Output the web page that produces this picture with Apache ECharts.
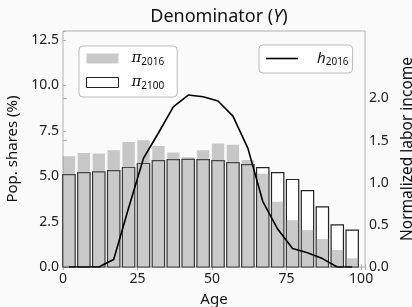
<!DOCTYPE html>
<html>
<head>
<meta charset="utf-8">
<script src="https://cdn.jsdelivr.net/npm/echarts@6/dist/echarts.min.js"></script>
<style>
  html, body { margin: 0; background: #fafafa; }
  #main { width: 412px; height: 307px; }
</style>
</head>
<body>
<div id="main"></div>
<script>
// 年龄组中点
const ageMid = [2, 7, 12, 17, 22, 27, 32, 37, 42, 47, 52, 57, 62, 67, 72, 77, 82, 87, 92, 97]
// 人口比例 (%)
const pop2016 = [6.10, 6.28, 6.25, 6.43, 6.88, 6.98, 6.67, 6.31, 6.04, 6.43, 6.80, 6.74, 5.90, 5.13, 3.59, 2.58, 2.03, 1.54, 0.93, 0.48]
const pop2100 = [5.09, 5.20, 5.24, 5.31, 5.48, 5.70, 5.86, 5.92, 5.93, 5.92, 5.86, 5.75, 5.64, 5.47, 5.20, 4.82, 4.21, 3.31, 2.32, 2.03]
// 劳动收入
const h2016 = [0, 0, 0, 0.09, 0.70, 1.29, 1.59, 1.90, 2.04, 2.02, 1.97, 1.79, 1.41, 0.78, 0.45, 0.22, 0.17, 0.10, 0, 0]
// 右轴刻度
const rightTicks = [0, 0.5, 1, 1.5, 2]

const barHalf = 2.07
const font = 'Noto Sans'
const axisGray = '#b0b0b0'
const grayFill = 'rgba(128,128,128,0.42)'

let chart = echarts.init(document.getElementById('main'))

// 画柱子
function renderBar(style) {
  return function (params, api) {
    let topLeft = api.coord([api.value(0) - barHalf, api.value(1)])
    let bottomRight = api.coord([api.value(0) + barHalf, 0])
    return {
      type: 'rect',
      shape: {
        x: topLeft[0],
        y: topLeft[1],
        width: bottomRight[0] - topLeft[0],
        height: bottomRight[1] - topLeft[1]
      },
      style: style
    }
  }
}

function fmt(step) {
  return function (v) {
    let k = v / step
    return Math.abs(k - Math.round(k)) < 1e-6 ? v.toFixed(1) : ''
  }
}

let legendRich = {
  p: { fontSize: 15, fontStyle: 'italic', fontFamily: 'DejaVu Serif', color: '#111', padding: [0, 0, 0, 8] },
  h: { fontSize: 15, fontStyle: 'italic', fontFamily: font, color: '#111', padding: [0, 0, 0, 14] },
  s: { fontSize: 10, fontFamily: font, color: '#111', padding: [7, 0, 0, 0] }
}

let option = {
  backgroundColor: '#fafafa',
  animation: false,
  textStyle: { fontFamily: font },
  title: {
    text: '{a|Denominator (}{b|Y}{a|)}',
    left: 214,
    textAlign: 'center',
    top: 3,
    textStyle: {
      fontWeight: 'normal',
      rich: {
        a: { fontSize: 18, color: '#111', fontFamily: font, fontWeight: 'normal' },
        b: { fontSize: 18, color: '#111', fontFamily: font, fontWeight: 'normal', fontStyle: 'italic' }
      }
    }
  },
  grid: {
    show: true,
    left: 63,
    right: 47,
    top: 31,
    bottom: 40,
    outerBoundsMode: 'none',
    containLabel: false,
    borderColor: axisGray,
    borderWidth: 1
  },
  legend: [{
    data: [
      { name: 'pi2016', icon: 'rect', itemStyle: { color: grayFill, borderWidth: 0 } },
      { name: 'pi2100', icon: 'rect', itemStyle: { color: '#fff', borderColor: '#222', borderWidth: 1 } }
    ],
    orient: 'vertical',
    left: 79,
    top: 46,
    itemWidth: 32,
    itemHeight: 10,
    itemGap: 8,
    padding: [5, 13, 6, 7],
    borderColor: '#bbb',
    borderWidth: 1,
    borderRadius: 4,
    backgroundColor: 'rgba(255,255,255,0.8)',
    selectedMode: false,
    formatter: function (name) {
      return name === 'pi2016' ? '{p|π}{s|2016}' : '{p|π}{s|2100}'
    },
    textStyle: { rich: legendRich }
  }, {
    data: [{ name: 'h2016', icon: 'rect', itemStyle: { color: '#000' } }],
    left: 259,
    top: 45,
    itemWidth: 32,
    itemHeight: 1.6,
    padding: [6, 4, 6, 7],
    borderColor: '#bbb',
    borderWidth: 1,
    borderRadius: 4,
    backgroundColor: 'rgba(255,255,255,0.8)',
    selectedMode: false,
    formatter: function () {
      return '{h|h}{s|2016}'
    },
    textStyle: { rich: legendRich }
  }],
  xAxis: [{
    type: 'value',
    min: 0,
    max: 101.3,
    interval: 25,
    name: 'Age',
    nameLocation: 'middle',
    nameGap: 25,
    nameTextStyle: { fontSize: 15, color: '#111' },
    axisLine: { show: false },
    axisTick: { inside: true, length: 3, lineStyle: { color: axisGray } },
    axisLabel: {
      fontSize: 14,
      color: '#222',
      margin: 5,
      formatter: function (v) { return v % 25 === 0 ? String(v) : '' }
    },
    splitLine: { show: false }
  }, {
    type: 'value',
    position: 'top',
    min: 0,
    max: 101.3,
    interval: 25,
    axisLine: { show: false },
    axisTick: { inside: true, length: 3, lineStyle: { color: axisGray } },
    axisLabel: { show: false },
    splitLine: { show: false }
  }],
  yAxis: [{
    type: 'value',
    min: 0,
    max: 13,
    interval: 2.5,
    name: 'Pop. shares (%)',
    nameLocation: 'middle',
    nameGap: 41,
    nameTextStyle: { fontSize: 15, color: '#111' },
    axisLine: { show: false },
    axisTick: { inside: true, length: 3, lineStyle: { color: axisGray } },
    axisLabel: { fontSize: 14, color: '#222', margin: 4, formatter: fmt(2.5) },
    splitLine: { show: false }
  }, {
    type: 'value',
    position: 'right',
    min: 0,
    max: 2.8,
    interval: 0.5,
    name: 'Normalized labor income',
    nameLocation: 'middle',
    nameGap: 30,
    nameRotate: 90,
    nameTextStyle: { fontSize: 15.5, color: '#111' },
    axisLine: { show: false },
    axisTick: { inside: false, length: 4, customValues: rightTicks, lineStyle: { color: axisGray } },
    axisLabel: {
      fontSize: 14,
      color: '#222',
      margin: 4,
      customValues: rightTicks,
      formatter: function (v) { return v.toFixed(1) }
    },
    splitLine: { show: false }
  }],
  series: [{
    name: 'pi2100',
    type: 'custom',
    renderItem: renderBar({ fill: '#fff', stroke: '#222', lineWidth: 1.2 }),
    itemStyle: { color: '#fff', borderColor: '#222', borderWidth: 1 },
    encode: { x: 0, y: 1 },
    data: ageMid.map((a, i) => [a, pop2100[i]]),
    z: 1
  }, {
    name: 'pi2016',
    type: 'custom',
    renderItem: renderBar({ fill: grayFill }),
    itemStyle: { color: grayFill },
    encode: { x: 0, y: 1 },
    data: ageMid.map((a, i) => [a, pop2016[i]]),
    z: 2
  }, {
    name: 'h2016',
    type: 'line',
    yAxisIndex: 1,
    symbol: 'none',
    lineStyle: { color: '#000', width: 1.6 },
    itemStyle: { color: '#000' },
    data: ageMid.map((a, i) => [a, h2016[i]]),
    z: 3
  }]
}

chart.setOption(option)
</script>
</body>
</html>
